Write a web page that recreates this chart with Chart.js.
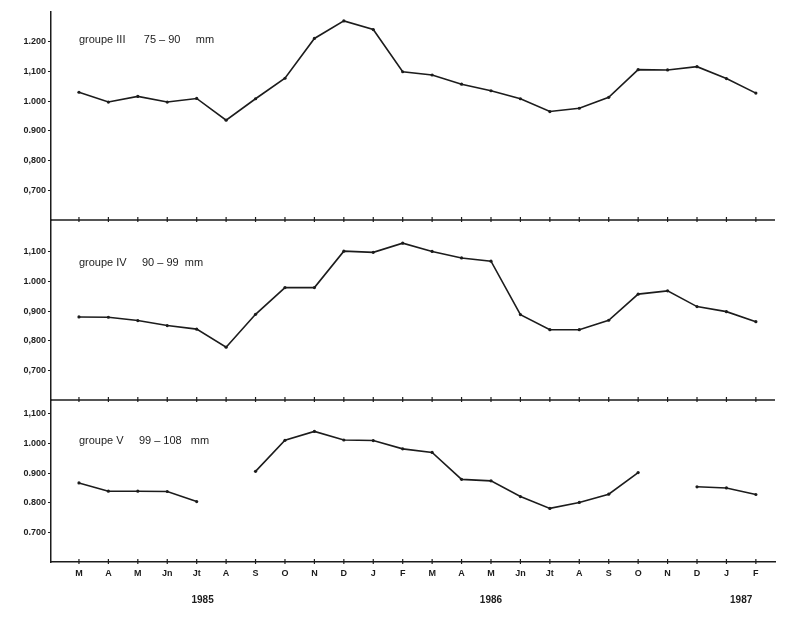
<!DOCTYPE html>
<html lang="fr">
<head>
<meta charset="UTF-8">
<title>Groupes III, IV, V</title>
<script src="https://cdn.jsdelivr.net/npm/chart.js@4.4.0/dist/chart.umd.min.js"></script>
<style>
  body { margin: 0; background: #ffffff; }
  #wrap { width: 800px; height: 624px; }
</style>
</head>
<body>
<div id="wrap"><canvas id="chart" width="800" height="624"></canvas></div>
<script>
// months from March 1985 to February 1987
const months = ["M","A","M","Jn","Jt","A","S","O","N","D","J","F",
                "M","A","M","Jn","Jt","A","S","O","N","D","J","F"];
const years = ["1985", "1986", "1987"];
const yearPos = [4.2, 14, 22.5];

const groupe3 = [1.030, 0.997, 1.016, 0.997, 1.009, 0.936, 1.008, 1.077, 1.211, 1.270, 1.241, 1.099,
                 1.088, 1.057, 1.035, 1.008, 0.965, 0.976, 1.013, 1.106, 1.105, 1.116, 1.076, 1.027];
const groupe4 = [0.880, 0.879, 0.868, 0.851, 0.839, 0.778, 0.889, 0.979, 0.979, 1.102, 1.098, 1.129,
                 1.101, 1.079, 1.068, 0.888, 0.837, 0.837, 0.869, 0.957, 0.968, 0.915, 0.898, 0.864];
const groupe5 = [0.867, 0.839, 0.839, 0.838, 0.804, null, 0.906, 1.011, 1.041, 1.012, 1.010, 0.982,
                 0.970, 0.879, 0.874, 0.821, 0.781, 0.801, 0.829, 0.902, null, 0.854, 0.850, 0.828];

const titles = ["groupe III      75 – 90     mm",
                "groupe IV     90 – 99  mm",
                "groupe V     99 – 108   mm"];

const ticks3 = [0.7, 0.8, 0.9, 1.0, 1.1, 1.2];
const tickLabels3 = ["0,700", "0,800", "0.900", "1.000", "1,100", "1.200"];
const ticks4 = [0.7, 0.8, 0.9, 1.0, 1.1];
const tickLabels4 = ["0,700", "0,800", "0,900", "1.000", "1,100"];
const ticks5 = [0.7, 0.8, 0.9, 1.0, 1.1];
const tickLabels5 = ["0.700", "0.800", "0.900", "1.000", "1,100"];

const ink = "#1c1c1c";
const labelFont = { family: "'Liberation Sans', Arial, sans-serif", size: 9, weight: "bold" };

function toPoints(arr) {
  return arr.map((v, i) => ({ x: i, y: v }));
}

function yScale(weight, max, size, values, labels) {
  return {
    type: "linear",
    position: "left",
    stack: "panels",
    stackWeight: size,
    weight: weight,
    min: 0.6,
    max: max,
    afterBuildTicks: axis => { axis.ticks = values.map(v => ({ value: v })); },
    afterFit: axis => { axis.width = 51; },
    ticks: {
      color: ink,
      font: labelFont,
      padding: 2,
      callback: (value) => labels[values.findIndex(v => Math.abs(v - value) < 1e-6)]
    },
    grid: { drawOnChartArea: false, tickLength: 3, color: ink, lineWidth: 1 },
    border: { display: true, color: ink, width: 1.5 }
  };
}

function line(data, axisId) {
  return {
    data: toPoints(data),
    yAxisID: axisId,
    borderColor: ink,
    backgroundColor: ink,
    borderWidth: 1.6,
    pointRadius: 1.6,
    pointBorderWidth: 0,
    tension: 0,
    spanGaps: false
  };
}

// panel separators, month ticks on every separator and the group names
const panelDecor = {
  id: "panelDecor",
  afterDatasetsDraw(chart) {
    const ctx = chart.ctx;
    const area = chart.chartArea;
    const xs = chart.scales.x;
    const panels = [chart.scales.y1, chart.scales.y2, chart.scales.y3];
    ctx.save();
    ctx.strokeStyle = ink;
    ctx.lineWidth = 1.5;
    panels.forEach((sc, p) => {
      const yb = sc.bottom;
      if (p < 2) {
        ctx.beginPath();
        ctx.moveTo(area.left, yb);
        ctx.lineTo(area.right, yb);
        ctx.stroke();
      }
      ctx.lineWidth = 1.2;
      months.forEach((m, i) => {
        const px = xs.getPixelForValue(i);
        ctx.beginPath();
        ctx.moveTo(px, yb - 3);
        ctx.lineTo(px, yb + 2);
        ctx.stroke();
      });
      ctx.lineWidth = 1.5;
    });
    ctx.fillStyle = ink;
    ctx.font = "11px 'Liberation Sans', Arial, sans-serif";
    ctx.textBaseline = "middle";
    const offsets = [28, 43, 41];
    panels.forEach((sc, p) => {
      ctx.fillText(titles[p], xs.getPixelForValue(0), sc.top + offsets[p]);
    });
    ctx.restore();
  }
};

new Chart("chart", {
  type: "line",
  data: {
    datasets: [
      line(groupe3, "y1"),
      line(groupe4, "y2"),
      line(groupe5, "y3")
    ]
  },
  options: {
    responsive: false,
    animation: false,
    layout: { padding: { top: 12, right: 25, left: 0, bottom: 0 } },
    plugins: { legend: { display: false }, tooltip: { enabled: false } },
    scales: {
      x: {
        type: "linear",
        position: "bottom",
        weight: 0,
        min: -0.95,
        max: 23.65,
        afterBuildTicks: axis => { axis.ticks = months.map((m, i) => ({ value: i })); },
        afterFit: axis => { axis.height = 20; },
        ticks: {
          color: ink,
          font: { family: "'Liberation Sans', Arial, sans-serif", size: 9, weight: "bold" },
          autoSkip: false,
          maxRotation: 0,
          padding: 6,
          callback: (value) => months[Math.round(value)]
        },
        grid: { display: false, drawTicks: false, tickLength: 0 },
        border: { display: true, color: ink, width: 1.5 }
      },
      years: {
        type: "linear",
        position: "bottom",
        weight: 1,
        min: -0.95,
        max: 23.65,
        afterBuildTicks: axis => { axis.ticks = yearPos.map(v => ({ value: v })); },
        afterFit: axis => { axis.height = 42; },
        ticks: {
          color: ink,
          font: { family: "'Liberation Sans', Arial, sans-serif", size: 10, weight: "bold" },
          autoSkip: false,
          maxRotation: 0,
          padding: 12,
          callback: (value) => years[yearPos.findIndex(v => Math.abs(v - value) < 1e-6)]
        },
        grid: { display: false, drawTicks: false, tickLength: 0 },
        border: { display: false }
      },
      y1: yScale(3, 1.30, 208, ticks3, tickLabels3),
      y2: yScale(2, 1.207, 180, ticks4, tickLabels4),
      y3: yScale(1, 1.147, 162, ticks5, tickLabels5)
    }
  },
  plugins: [panelDecor]
});
</script>
</body>
</html>
